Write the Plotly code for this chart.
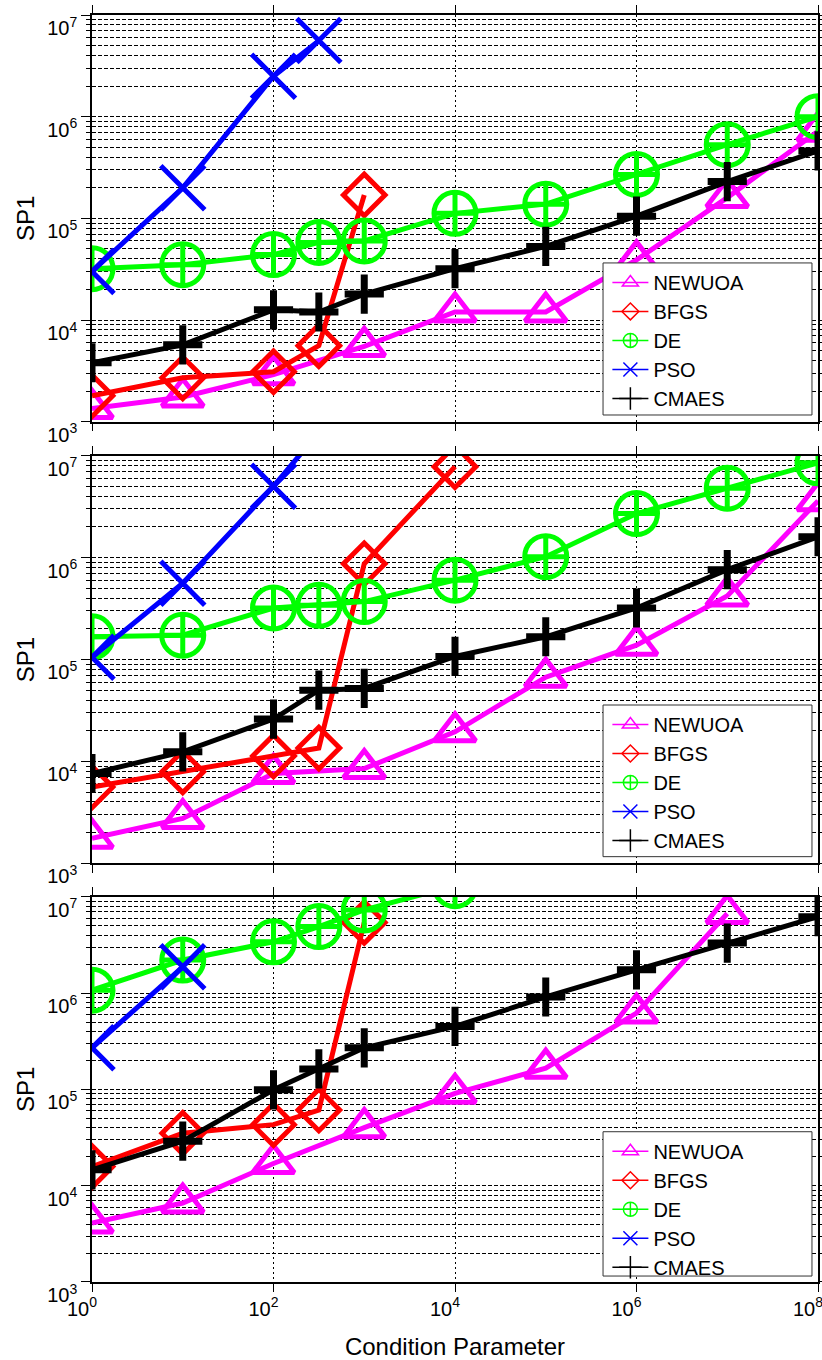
import plotly.graph_objects as go

# ---------------- data ----------------
cond = [1, 10, 100, 316, 1000, 1e4, 1e5, 1e6, 1e7, 1e8]

# panel 1
p1_newuoa = [1.35e3, 1.75e3, 2.9e3, None, 5.5e3, 1.2e4, 1.2e4, 3.9e4, 1.6e5, 7.2e5]
p1_bfgs = [1.8e3, 2.7e3, 3.1e3, 5.6e3, 1.7e5, None, None, None, None, None]
p1_de = [3.2e4, 3.5e4, 4.4e4, 5.8e4, 6.0e4, 1.12e5, 1.38e5, 2.7e5, 5.3e5, 1.0e6]
p1_pso = [3.0e4, 2.0e5, 2.5e6, 5.6e6, None, None, None, None, None, None]
p1_cmaes = [3.8e3, 5.7e3, 1.26e4, 1.2e4, 1.8e4, 3.2e4, 5.3e4, 1.05e5, 2.3e5, 4.6e5]

# panel 2
p2_newuoa = [1.76e3, 2.75e3, 7.6e3, None, 8.5e3, 1.95e4, 6.7e4, 1.38e5, 4.2e5, 3.6e6]
p2_bfgs = [5.6e3, 7.9e3, 1.13e4, 1.35e4, 8.7e5, 7.8e6, None, None, None, None]
p2_de = [1.67e5, 1.73e5, 3.2e5, 3.4e5, 3.7e5, 6.0e5, 1.02e6, 2.7e6, 4.8e6, 8.5e6]
p2_pso = [1.05e5, 5.6e5, 5.0e6, 1.7e7, None, None, None, None, None, None]
p2_cmaes = [7.6e3, 1.24e4, 2.6e4, 5.0e4, 5.2e4, 1.07e5, 1.67e5, 3.2e5, 7.6e5, 1.6e6]

# panel 3
p3_newuoa = [4.1e3, 6.6e3, 1.7e4, None, 4.0e4, 9.1e4, 1.66e5, 6.2e5, 6.7e6, None]
p3_bfgs = [1.58e4, 3.5e4, 4.3e4, 6.1e4, 5.4e6, None, None, None, None, None]
p3_de = [1.07e6, 2.2e6, 3.4e6, 4.9e6, 7.3e6, 1.3e7, None, None, None, None]
p3_pso = [2.7e5, 1.87e6, None, None, None, None, None, None, None, None]
p3_cmaes = [1.46e4, 2.9e4, 9.9e4, 1.63e5, 2.7e5, 4.5e5, 9.1e5, 1.74e6, 3.3e6, 6.2e6]

names = ["NEWUOA", "BFGS", "DE", "PSO", "CMAES"]
panels = [
    [p1_newuoa, p1_bfgs, p1_de, p1_pso, p1_cmaes],
    [p2_newuoa, p2_bfgs, p2_de, p2_pso, p2_cmaes],
    [p3_newuoa, p3_bfgs, p3_de, p3_pso, p3_cmaes],
]

x_tickvals = [1, 1e2, 1e4, 1e6, 1e8]
x_ticktext = ["10<sup>0</sup>", "10<sup>2</sup>", "10<sup>4</sup>", "10<sup>6</sup>", "10<sup>8</sup>"]
y_tickvals = [1e3, 1e4, 1e5, 1e6, 1e7]
y_ticktext = ["10<sup>3</sup>", "10<sup>4</sup>", "10<sup>5</sup>", "10<sup>6</sup>", "10<sup>7</sup>"]

# ---------------- styles ----------------
colors = ["#FF00FF", "#FF0000", "#00FF00", "#0000FF", "#000000"]
symbols = ["triangle-up-open", "diamond-open", "circle-cross-open", "x-thin-open", "cross-thin-open"]
msizes = [36, 32, 42, 44, 28]
mlw = [5, 5, 5, 5, 7]
leg_sizes = [14, 13, 14, 14, 16]

FONT = "Liberation Sans, Arial, Helvetica, sans-serif"

fig = go.Figure()

for p, series in enumerate(panels):
    sfx = "" if p == 0 else str(p + 1)
    xa, ya = "x" + sfx, "y" + sfx
    leg = "legend" + sfx
    for i, vals in enumerate(series):
        fig.add_trace(go.Scatter(
            x=cond, y=vals, mode="lines+markers", connectgaps=True,
            line=dict(color=colors[i], width=5),
            marker=dict(symbol=symbols[i], size=msizes[i], color=colors[i],
                        line=dict(color=colors[i], width=mlw[i])),
            xaxis=xa, yaxis=ya, showlegend=False, name=names[i],
        ))
    for i in range(5):
        fig.add_trace(go.Scatter(
            x=[None], y=[None], mode="lines+markers", name=names[i],
            line=dict(color=colors[i], width=1.5),
            marker=dict(symbol=symbols[i], size=leg_sizes[i], color=colors[i],
                        line=dict(color=colors[i], width=1.5)),
            xaxis=xa, yaxis=ya, showlegend=True, legend=leg,
        ))

minor_vals = [m * 10 ** k for k in range(3, 7) for m in range(2, 10)]

ydomains = [[0.679, 1.0], [0.3305, 0.6522], [0.0, 0.3041]]
# legend frames (paper coords): [x0, x1, ybottom, ytop]
leg_boxes = [[0.7039, 0.9917, 0.6843, 0.8043],
             [0.7039, 0.9917, 0.3357, 0.4554],
             [0.7039, 0.9917, 0.0047, 0.1186]]

layout = dict(
    width=822, height=1360, autosize=False,
    margin=dict(l=92, r=4, t=15, b=78, pad=0, autoexpand=False),
    paper_bgcolor="white", plot_bgcolor="white",
    font=dict(family=FONT, color="black"),
    shapes=[],
)

for p in range(3):
    sfx = "" if p == 0 else str(p + 1)
    xaxis = dict(
        type="log", range=[0, 8], domain=[0, 1], anchor="y" + sfx,
        automargin=False, ticklabeloverflow="allow",
        tickvals=x_tickvals, ticktext=x_ticktext, showticklabels=(p == 2),
        tickfont=dict(size=20, family=FONT), ticklabelshift=-10,
        ticks="outside", ticklen=8, tickcolor="black", tickwidth=1,
        showgrid=True, gridcolor="black", gridwidth=1, griddash="2px,3px",
        showline=True, linecolor="black", linewidth=1.5, mirror="ticks",
        zeroline=False,
    )
    if p == 2:
        xaxis["title"] = dict(text="Condition Parameter",
                              font=dict(size=24, family=FONT), standoff=20)
    layout["xaxis" + sfx] = xaxis
    layout["yaxis" + sfx] = dict(
        type="log", range=[3, 7], domain=ydomains[p], anchor="x" + sfx,
        automargin=False, ticklabeloverflow="allow",
        tickvals=y_tickvals, ticktext=y_ticktext,
        tickfont=dict(size=20, family=FONT), ticklabelshift=13,
        ticks="outside", ticklen=9, tickcolor="black", tickwidth=1,
        showgrid=True, gridcolor="black", gridwidth=1, griddash="4px,2px",
        minor=dict(tickvals=minor_vals, showgrid=True, gridcolor="black",
                   gridwidth=1, griddash="4px,2px", ticks="outside",
                   ticklen=4, tickcolor="black"),
        showline=True, linecolor="black", linewidth=1.5, mirror="ticks",
        zeroline=False,
        title=dict(text="SP1", font=dict(size=24, family=FONT), standoff=6),
    )
    bx = leg_boxes[p]
    layout["shapes"].append(dict(
        type="rect", xref="paper", yref="paper", layer="above",
        x0=bx[0], x1=bx[1], y0=bx[2], y1=bx[3],
        fillcolor="white", line=dict(color="#333333", width=1),
    ))
    layout["legend" + sfx] = dict(
        x=bx[0] + 0.006, y=bx[3], xanchor="left", yanchor="top",
        bgcolor="rgba(0,0,0,0)", borderwidth=0,
        font=dict(size=20, family=FONT), itemwidth=36,
        tracegroupgap=0,
        itemclick=False, itemdoubleclick=False,
    )

fig.update_layout(**layout)

fig.write_html(
    "out.html",
    config={"displayModeBar": False, "responsive": False},
    post_script="document.body.style.margin='0';document.body.style.overflow='hidden';",
)
